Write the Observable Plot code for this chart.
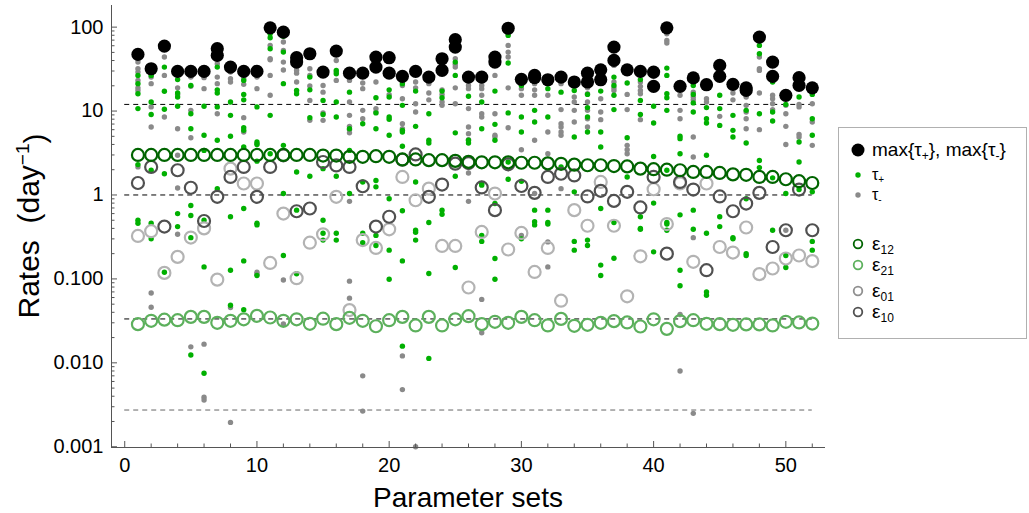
<!DOCTYPE html>
<html><head><meta charset="utf-8">
<script src="https://cdn.jsdelivr.net/npm/d3@7"></script>
<script src="https://cdn.jsdelivr.net/npm/@observablehq/plot@0.6"></script>
<style>body{margin:0;background:#fff;} #chart{width:1029px;height:513px;}</style>
</head><body><div id="chart"></div>
<script>
const sets = d3.range(1, 53);
const yTickValues = [0.001, 0.01, 0.1, 1, 10, 100];
const yTickLabels = ["0.001", "0.010", "0.100", "1", "10", "100"];
const xTickValues = [0, 10, 20, 30, 40, 50];
const refLines = [12, 1, 1/30, 1/365];

const maxTau = [[47.3],[31.9],[59.5],[29.7],[29.7],[29.7],[55.3,46.0],[33.4],[29.7],[29.7],
[98],[87],[43.2,38.3],[48.2],[29.1],[51.8],[28.3],[28.3],[44,33.4],[43.2,28.3],
[25.9],[29.7],[25.4],[42,30.5],[70.8,57.9],[25.4],[25.4],[44,38.3],[97],[23.9],
[26.6,25],[23.6],[25.4],[22.2],[28.3,22.2],[31,23.6],[57.9,40.1],[31],[29.7],[29.1,19.7],
[98],[19.7],[24.8],[20.6],[35,25.9],[20.8],[18.9,17.6],[76.1],[38.3,25.9],[15.4],
[25,20.2],[18.9]];

const tauPlus = [
[26.6,21.2,16.1,10.7,2.3,0.5,0.46],
[26.6,12.8,9.1,1.97,0.46,0.30],
[33.4,17.2,10.5,1.79,0.12],
[23.7,16.4,14.7,11.4,0.60,0.42],
[20.2,9.3,6.16,0.75,0.57,0.31,0.0124],
[11.4,5.14,3.4,0.5,0.139,0.0075],
[33.4,17.9,16.4,11.2,4.48,1.19],
[12.8,8.89,5.0,0.55,0.127,0.0486],
[23.2,15.8,13.6,6.33,5.89,3.73,0.69,0.164,0.043],
[11.2,4.28,4.0,2.53,0.46,0.44,0.11],
[83.4,74.7,55.3,8.89,3.1],
[77.6,50.4,21.2,3.9,1.04,0.19],
[17.6,16.1,1.88,0.66,0.115],
[25.4,17.9,8.34,1.67],
[13.4,9.1,2.06,0.5,0.35,0.29],
[30.5,27.8,12.8,8.49,1.67,0.35,0.29],
[16.8,6.16,3.4,1.04],
[7.07,1.43,0.35,0.27],
[14.4,9.5,6.16,1.49,1.25,0.33,0.25],
[17.9,14.7,8.49,7.97,5.14,0.9,0.22,0.099],
[21.2,11.7,5.89,5.63,3.8,0.65,0.164,0.0158],
[17.3,6.57,1.43,0.38,0.36,0.29],
[9.3,4.48,4.16,0.47,0.116,0.0113],
[17.3,14.4,0.66,0.59],
[38.3,26.6,5.5,1.67,0.137],
[15,4.48,4.16],
[12.8,6.16,1.37,1.31,0.33,0.28],
[17.3,6.94,4.48,0.79,0.175,0.099],
[79.7,37.3,9.5,2.47,1.54],
[20.2,8.49,5.63,1.46,0.3],
[22.6,10.2,7.4,0.66,0.48,0.44],
[18.5,8.49,0.66,0.47,0.45],
[16.8,2.16],
[17.6,4.91,1.09,0.28,0.22],
[15.8,11,8.49,5.63,0.29,0.25],
[17.3,5.63,3.73,0.69,0.146,0.11],
[25.4,20.2,15.4,10.4,0.47,0.176],
[21.6,4.8,1.64],
[23.7,13.4,9.1,0.55,0.40,0.39],
[11.4,7.2,2.88,0.8,0.21],
[32.5,26.6,16.1,14.4,10.2,1.97,0.47,0.45,0.38],
[18.9,5.0,4.69,3.1,0.58,0.127,0.083],
[20.2,15.8,12.5,9.74,0.66,0.39],
[11,8.11,7.2,2.97,0.35,0.07,0.064],
[15.4,10.7,6.75,0.55,0.42],
[8.89,5.89,4.91,0.31,0.30],
[10.2,4.16,0.9,0.2,0.19],
[60.6,48.2,9.3,2.58,2.12],
[22.2,9.74,7.6,1.6,0.38],
[12,1.04,0.19,0.137],
[14.7,4.28,2.47,1.16],
[15.8,8.11,5.14,1.09,0.28,0.22]];

const tauMinus = [
[38.3,31.9,29.1,23.2,18.9,17.6,2.16],
[25.4,21.2,11.2,6.45,0.068,0.046],
[44,26.6,8.49],
[18.9,15.8,6.16,2.97,1.21,0.34],
[25.4,19.7,10.2,4.8,0.0155],
[25,18.5,0.0167,0.0039,0.0036],
[36.6,25.4,21.2,9.3],
[29.1,24.3,22.2,0.0456,0.00195],
[24.3,20.8,8.34,5.63],
[25.4,18.5,4.09,0.12,0.113],
[60.6,42,40.9,26.6,15.4],
[66.4,52.8,38.3,30.9,0.097,0.029],
[33.4,30.5,28.3,22.2],
[31.9,26.6,19.9,13.4,7.75],
[20.2,16.8,9.5,7.75],
[40.1,29.1,23.2],
[23.2,12.8,8.89,6.57,6.0,5.5,0.84,0.094,0.059],
[21.6,18.5,10.2,8.11,0.007,0.00266],
[22.2,10.7,9.74],
[15.7],
[20.2,14,7.07,6.16,0.0121,0.0048],
[22.2,18.9,12.2,9.74,0.001],
[21.2,16.4,13.6],
[17.9,15.8,12.8,11.7],
[55.3,42,35.9,33.4,18.9,12.2],
[20.2,18.5,10.7,6.45,5.38,4.57,1.83,0.84],
[20.2,18.5,15.4,9.3,8.49,0.057,0.0228],
[26.6,9.3,5.14,4.91],
[60.6,50.4,44,18.9,6.33],
[18.5,15.4,3.46,0.33],
[21.2,17.9,15.4,4.48,1.04],
[22.2,15.4,5.63,3.1,0.276,0.139],
[21.2,10.4,7.07,6.45,5.63,5.14,1.19],
[14.7,12.8,10.2,7.4],
[18.9,16.1,12.8,10.2,8.11,6.45],
[14,9.74,7.9],
[35,22.2,18.9,17.6],
[15.8,10.4,3.9,3.46,3.1],
[22.2,19.7,17.6,16.1,7.9],
[25.9,18.5],
[83.4,69.5,64.6],
[15.4,10.2,8.11,0.0377,0.008],
[16.8,14.7,13.6,4.91,2.83,0.31,0.0025],
[14,12.8],
[23.7,8.65],
[16.4,13.6],
[14.7,11.7,9.74,8.11,6.16],
[44,31.9,30.5,16.4,6.0],
[15.4,14,12.2,10.4],
[11.7,9.3,6.57,4.0,0.38],
[12,11.2,5.28,4.91],
[12.2,7.4,3.9]];

const eps12 = [3.0,3.0,3.0,3.0,3.0,3.0,3.0,3.0,3.0,3.0,3.0,3.0,3.0,3.0,2.95,2.95,2.85,2.85,2.9,2.85,
2.65,2.65,2.6,2.6,2.55,2.48,2.45,2.45,2.45,2.42,2.42,2.38,2.35,2.3,2.26,2.26,2.21,2.19,2.06,2.03,
2.0,1.97,1.88,1.88,1.83,1.76,1.74,1.64,1.64,1.54,1.46,1.39];
const eps21 = [0.0289,0.0317,0.0327,0.0322,0.0353,0.0353,0.030,0.0317,0.033,0.0363,0.0347,0.0317,0.033,0.0292,0.0336,0.0289,0.0344,0.0317,0.0273,0.0322,
0.0353,0.0279,0.0353,0.0279,0.033,0.036,0.0289,0.0308,0.030,0.0353,0.0322,0.0279,0.0334,0.0276,0.0284,0.030,0.0314,0.0303,0.0271,0.033,
0.0254,0.0314,0.0322,0.0292,0.0289,0.0284,0.0287,0.0287,0.0279,0.0308,0.0303,0.0294];
const eps01 = [0.325,0.37,0.118,0.183,0.311,0.40,0.098,2.06,1.37,1.37,0.155,0.6,0.102,0.27,0.34,0.95,0.0425,0.29,0.234,0.39,
1.64,0.865,1.19,0.247,0.247,0.079,0.363,1.04,0.224,0.353,0.121,0.234,0.055,0.66,0.43,1.43,0.43,0.062,0.186,1.17,
0.45,1.37,0.16,1.37,0.24,0.206,0.41,0.114,0.133,0.175,0.19,0.163];
const eps10 = [1.39,2.16,0.42,1.97,1.22,0.49,0.95,1.64,2.16,0.95,2.16,2.97,0.64,0.69,2.47,2.25,2.16,1.27,0.42,0.55,
2.63,3.04,0.95,1.33,2.36,2.4,1.23,0.66,2.32,1.28,1.06,1.64,1.79,1.71,0.96,1.12,0.85,1.09,0.71,1.64,
0.2,1.43,1.16,0.127,0.96,0.64,0.79,1.06,0.24,0.38,1.16,0.38];

const flat = arr => sets.flatMap((s, i) => arr[i].map(v => ({x: s, v})));
const single = arr => sets.map((s, i) => ({x: s, v: arr[i]}));

const yMin = 0.00098, yMax = 181;
const pxPerUnitX = (825 - 111) / 54;
const pxPerDecade = 442 / Math.log10(yMax / yMin);
const yMinor = [];
for (const d of [0.001, 0.01, 0.1, 1, 10, 100]) for (let k = 2; k <= 9; k++) if (k * d < yMax) yMinor.push(k * d);
const xMinor = d3.range(0, 53, 2).filter(v => v % 10 !== 0);
const frameColor = "#555";
const font = "'Liberation Sans', Arial, Helvetica, sans-serif";

const plot = Plot.plot({
  width: 1029, height: 513,
  marginLeft: 111, marginRight: 204, marginTop: 5, marginBottom: 66,
  style: {fontFamily: font, fontSize: "20px", color: "#000", background: "#fff"},
  x: {domain: [-1, 53], axis: null},
  y: {type: "log", domain: [yMin, yMax], axis: null},
  marks: [
    Plot.ruleY(refLines, {y: d => d, x1: 0, x2: 52, stroke: (d, i) => i === 3 ? "#666" : "#000", strokeWidth: 1, strokeDasharray: "5,4"}),
    Plot.dot(flat(tauMinus), {x: "x", y: "v", r: 2.7, fill: "#8a8a8a"}),
    Plot.dot(flat(tauPlus), {x: "x", y: "v", r: 2.7, fill: "#00b000"}),
    Plot.dot(single(eps01), {x: "x", y: "v", r: 6, stroke: "#b3b3b3", strokeWidth: 2.2, fill: "none"}),
    Plot.dot(single(eps10), {x: "x", y: "v", r: 6, stroke: "#505050", strokeWidth: 2.2, fill: "none"}),
    Plot.dot(single(eps21), {x: "x", y: "v", r: 6, stroke: "#5cb05c", strokeWidth: 2.2, fill: "none"}),
    Plot.dot(single(eps12), {x: "x", y: "v", r: 6, stroke: "#006400", strokeWidth: 2.2, fill: "none"}),
    Plot.dot(flat(maxTau), {x: "x", y: "v", r: 6.6, fill: "#000"}),
    Plot.ruleX([-1], {stroke: frameColor, strokeWidth: 1}),
    Plot.ruleY([yMin], {stroke: frameColor, strokeWidth: 1}),
    Plot.ruleY(yTickValues, {y: d => d, x1: -1, x2: -1 + 6 / pxPerUnitX, stroke: frameColor}),
    Plot.ruleY(yMinor, {y: d => d, x1: -1, x2: -1 + 3.5 / pxPerUnitX, stroke: frameColor}),
    Plot.ruleX(xTickValues, {x: d => d, y1: yMin, y2: yMin * Math.pow(10, 6 / pxPerDecade), stroke: frameColor}),
    Plot.ruleX(xMinor, {x: d => d, y1: yMin, y2: yMin * Math.pow(10, 3.5 / pxPerDecade), stroke: frameColor}),
    Plot.axisY({ticks: yTickValues, tickFormat: d => yTickLabels[yTickValues.indexOf(d)], tickSize: 0, tickPadding: 8, label: null, fontSize: 20}),
    Plot.axisX({ticks: xTickValues, tickFormat: d => String(d), tickSize: 0, tickPadding: 10, label: null, fontSize: 20})
  ]
});
document.getElementById("chart").appendChild(plot);

const svg = d3.select(plot);
// axis titles
const yl = svg.append("text").attr("transform", "translate(39,226) rotate(-90)")
  .attr("text-anchor", "middle").style("font-size", "30px").style("font-family", font).attr("fill", "#000");
yl.append("tspan").text("Rates  (day");
yl.append("tspan").text("\u22121").style("font-size", "19px").attr("dy", "-0.55em");
yl.append("tspan").text(")").attr("dy", "0.55em");
svg.append("text").attr("x", 468).attr("y", 507).attr("text-anchor", "middle")
  .style("font-size", "28px").style("font-family", font).attr("fill", "#000").text("Parameter sets");

// legend
const lg = svg.append("g").style("font-family", font).attr("text-anchor", "start");
lg.append("rect").attr("x", 838.5).attr("y", 127.5).attr("width", 188).attr("height", 211)
  .attr("fill", "#fff").attr("stroke", "#b0b0b0");
const items = [
  {y: 150, type: "big", color: "#000", size: 19, label: ["max{\u03c4", "+", "}, max{\u03c4", "-", "}"]},
  {y: 175, type: "small", color: "#00b000", size: 16, label: ["\u03c4", "+"]},
  {y: 195, type: "small", color: "#8a8a8a", size: 16, label: ["\u03c4", "-"]},
  {y: 244, type: "ring", color: "#006400", size: 19, label: ["\u03b5", "12"]},
  {y: 265, type: "ring", color: "#5cb05c", size: 19, label: ["\u03b5", "21"]},
  {y: 291, type: "ring", color: "#8f8f8f", size: 19, label: ["\u03b5", "01"]},
  {y: 312, type: "ring", color: "#505050", size: 19, label: ["\u03b5", "10"]}
];
for (const it of items) {
  if (it.type === "big") lg.append("circle").attr("cx", 858).attr("cy", it.y).attr("r", 6.5).attr("fill", it.color);
  else if (it.type === "small") lg.append("circle").attr("cx", 858).attr("cy", it.y).attr("r", 2.7).attr("fill", it.color);
  else lg.append("circle").attr("cx", 858).attr("cy", it.y).attr("r", 4.3).attr("fill", "none").attr("stroke", it.color).attr("stroke-width", 1.8);
  const t = lg.append("text").attr("x", 872).attr("y", it.y + Math.round(it.size * 0.3)).attr("text-anchor", "start")
    .style("font-size", it.size + "px").attr("fill", "#000");
  it.label.forEach((s, i) => {
    const sp = t.append("tspan").text(s);
    if (i % 2 === 1) sp.style("font-size", Math.round(it.size * 0.63) + "px").attr("dy", "0.3em");
    else if (i > 0) sp.attr("dy", "-0.19em");
  });
}
</script>
</body></html>
